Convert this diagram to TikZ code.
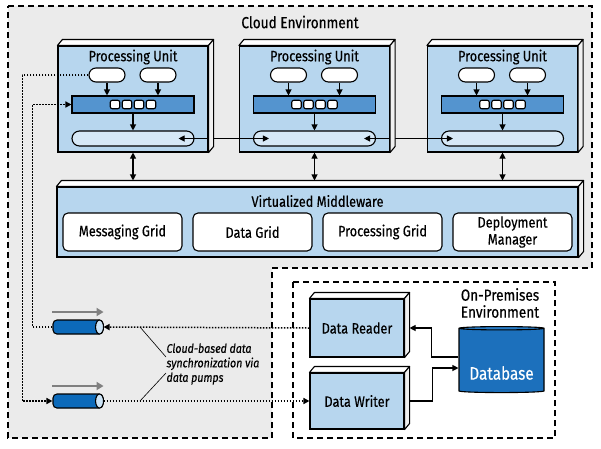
\documentclass[tikz,border=0pt]{standalone}
\usepackage{fontspec}
\setmainfont{Fira Sans}[FakeStretch=0.85,FakeBold=0.4]
\usetikzlibrary{arrows.meta,shapes.geometric}
\definecolor{cloudbg}{RGB}{235,235,235}
\definecolor{front}{RGB}{183,214,238}
\definecolor{queue}{RGB}{84,148,207}
\definecolor{lanebg}{RGB}{214,232,246}
\definecolor{pumpblue}{RGB}{12,106,186}
\definecolor{pumpend}{RGB}{205,228,246}
\definecolor{dbblue}{RGB}{28,112,188}
\definecolor{dbtop}{RGB}{40,124,198}
\definecolor{arrowgray}{RGB}{128,128,128}
\begin{document}
\begin{tikzpicture}[x=1pt,y=-1pt,line width=1.1pt,
  region/.style={draw,dash pattern=on 6pt off 4pt,line width=1.2pt},
  box/.style={draw,fill=front,inner sep=0pt},
  side/.style={draw,fill=white,line join=round},
  lbl/.style={font=\fontsize{15}{17}\selectfont},
  pill/.style={draw,fill=white,rounded corners=7pt,minimum width=36pt,minimum height=14pt,inner sep=0pt},
  bar/.style={draw,fill=queue,minimum width=122pt,minimum height=17pt,inner sep=0pt},
  slot/.style={draw,fill=white,rounded corners=2pt,minimum width=9.5pt,minimum height=8.5pt,inner sep=0pt},
  lane/.style={draw,fill=lanebg,rounded corners=7.5pt,minimum width=122pt,minimum height=15pt,inner sep=0pt},
  grid/.style={draw,fill=white,rounded corners=5pt,minimum width=119pt,minimum height=38pt,inner sep=0pt,align=center,lbl},
  pump/.style={draw,fill=pumpblue,rounded corners=4pt,minimum width=50pt,minimum height=14pt,inner sep=0pt},
  arr/.style={-{Triangle[length=6pt,width=6pt]}},
  darr/.style={{Triangle[length=6pt,width=6pt]}-{Triangle[length=6pt,width=6pt]}},
  dots/.style={dash pattern=on 1.6pt off 1.4pt,line width=1.5pt},
  pumpflow/.style={draw=arrowgray,line width=2pt,-{Triangle[length=7pt,width=8pt]}}]
\useasboundingbox (0,0) rectangle (601,448);

\draw[region,fill=cloudbg] (8,6) -- (592,6) -- (592,268) -- (272,268) -- (272,438) -- (8,438) -- cycle;
\node[font=\fontsize{16}{18}\selectfont] (cloud) at (300,22) {Cloud Environment};
\draw[region,fill=white] (293,282) rectangle (555,438);
\node[align=center,font=\fontsize{16}{17}\selectfont] (onprem) at (500,303) {On-Premises\\Environment};

\node[box,minimum width=521pt,minimum height=70pt] (mw) at (317.5,222) {};
\node[lbl] (mw-t) at (317.5,201) {Virtualized Middleware};
\foreach \n/\x/\t in {mg/122.5/Messaging Grid,dg/252.5/Data Grid,pg/382.5/Processing Grid,dm/512.5/{Deployment\\Manager}}
  \node[grid] (\n) at (\x,232) {\t};

\foreach \n/\x in {1/133,2/314.5,3/502.5}{
  \node[box,minimum width=150pt,minimum height=106pt] (pu\n) at (\x,99) {};
  \node[lbl] (pu\n-t) at (\x,57) {Processing Unit};
  \node[pill] (pu\n-a) at (\x-26,75) {};
  \node[pill] (pu\n-b) at (\x+25,75) {};
  \node[bar] (pu\n-q) at (\x,104.5) {};
  \foreach \k in {1,...,4}
    \node[slot] (pu\n-s\k) at (\x-30+12*\k,104.5) {};
  \node[lane] (pu\n-l) at (\x,138.5) {};
  \draw[arr] (pu\n-a.south) -- (pu\n-a.south |- pu\n-q.north);
  \draw[arr] (pu\n-b.south) -- (pu\n-b.south |- pu\n-q.north);
  \draw[arr] (pu\n-q.south) -- (pu\n-l.north);
  \draw[darr] (pu\n.south) -- ([yshift=6pt]pu\n.south |- mw.north);
}
\draw[darr] ([xshift=-16pt]pu1-l.east) -- ([xshift=16pt]pu2-l.west);
\draw[darr] ([xshift=-12pt]pu2-l.east) -- ([xshift=12pt]pu3-l.west);

\node[box,lbl,minimum width=94pt,minimum height=58pt] (dr) at (357,328) {Data Reader};
\node[box,lbl,minimum width=94pt,minimum height=56pt] (dw) at (357,401) {Data Writer};

\foreach \b in {pu1,pu2,pu3,mw,dr,dw}{
  \draw[side] (\b.north west) -- ++(5,-6) -- ([shift={(5,-6)}]\b.north east) -- (\b.north east) -- cycle;
  \draw[side,fill=gray!12] (\b.north east) -- ++(5,-6) -- ([shift={(5,-6)}]\b.south east) -- (\b.south east) -- cycle;
}

\node[cylinder,shape border rotate=90,aspect=0.5,draw,minimum width=85pt,minimum height=66pt,
  cylinder uses custom fill,cylinder body fill=dbblue,cylinder end fill=dbtop] (db) at (501.5,361) {};
\node[text=white,font=\fontsize{18}{20}\selectfont] (db-t) at (501.5,373) {Database};
\draw[arr] ([yshift=4pt]db.west) -- ++(-27,0) |- ([xshift=5pt]dr.east);
\draw[arr] ([xshift=5pt]dw.east) -- ++(23,0) |- ([yshift=-7pt]db.west);

\node[pump] (p1) at (78,327) {};
\node[pump] (p2) at (78,401) {};
\foreach \p in {p1,p2}{
  \draw[fill=pumpend] ([xshift=-4pt]\p.east) ellipse [x radius=4pt,y radius=7pt];
  \draw[pumpflow] ([yshift=15pt]\p.west) -- ([yshift=15pt]\p.east);
}

\draw[dots,arr] (dr.west) -- (p1.east);
\draw[dots,arr] (p1.west) -- ++(-20,0) |- (pu1-q.west);
\draw[dots,arr] (pu1-a.west) -- ++(-66,0) |- (p2.west);
\draw[dots,arr] (p2.east) -- (dw.west);

\node[anchor=west,align=left,inner sep=0pt,font=\fontsize{12.5}{14.5}\selectfont\itshape] (note) at (166,364)
  {Cloud-based data\\synchronization via\\data pumps};
\coordinate (k1) at (140,327);
\coordinate (k2) at (140,401);
\draw[line width=0.6pt] ([yshift=7pt]note.west) -- (k1);
\draw[line width=0.6pt] ([yshift=-9pt]note.west) -- (k2);
\end{tikzpicture}
\end{document}
